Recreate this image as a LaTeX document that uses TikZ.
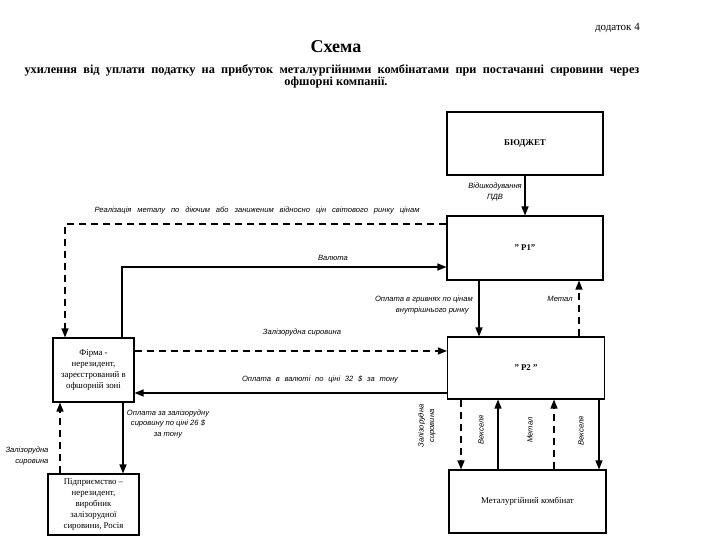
\documentclass[tikz,border=0pt]{standalone}
\usepackage{fontspec}
\setmainfont{Liberation Serif}
\newfontfamily\lblfont{Liberation Sans}
\usetikzlibrary{arrows.meta}
\begin{document}
\begin{tikzpicture}[x=1pt,y=-1pt,
  box/.style={draw,line width=1.1pt,inner sep=0pt,font=\fontsize{8.8}{11}\selectfont,align=center},
  conn/.style={line width=1.3pt,-{Triangle[length=9pt,width=7pt]}},
  dconn/.style={conn,dash pattern=on 7pt off 5pt},
  lbl/.style={font=\lblfont\itshape\fontsize{7.6}{10.5}\selectfont,inner sep=0pt,align=center}]
\useasboundingbox (0,0) rectangle (720,540);
% titles
\node[anchor=east,font=\fontsize{11}{13}\selectfont,inner sep=0pt] (dod) at (640,28) {додаток 4};
\node[font=\bfseries\fontsize{18}{20}\selectfont,inner sep=0pt] (title) at (336,47) {Схема};
\node[font=\bfseries\fontsize{12.3}{14}\selectfont,inner sep=0pt] (sub1) at (332,70)
  {\makebox[615pt][s]{ухилення від уплати податку на прибуток металургійними комбінатами при постачанні сировини через}};
\node[font=\bfseries\fontsize{12.3}{14}\selectfont,inner sep=0pt] (sub2) at (336,83) {офшорні компанії.};
% boxes
\node[box,minimum width=156pt,minimum height=63pt,font=\bfseries\fontsize{8.8}{11}\selectfont] (bud) at (525,143.5) {БЮДЖЕТ};
\node[box,minimum width=156pt,minimum height=64pt,font=\bfseries\fontsize{8.8}{11}\selectfont] (p1) at (525,248) {" Р1"};
\node[box,minimum width=157pt,minimum height=62pt,font=\bfseries\fontsize{8.8}{11}\selectfont] (p2) at (526,368) {" Р2 "};
\node[box,minimum width=81pt,minimum height=64pt] (firm) at (93.5,370) {Фірма -\\нерезидент,\\зареєстрований в\\офшорній зоні};
\node[box,minimum width=91pt,minimum height=61pt] (pid) at (93.5,504.5) {Підприємство –\\нерезидент,\\виробник\\залізорудної\\сировини, Росія};
\node[box,minimum width=157pt,minimum height=63pt] (mk) at (527.5,501.5) {Металургійний комбінат};
% coordinates
\coordinate (c1) at (65,224);
\coordinate (c2) at (122,267);
% connectors
\draw[conn] (bud.south) -- (p1.north);
\node[lbl,anchor=east] (l0) at (522,192) {Відшкодування\\ПДВ};
\draw[dconn] (p1.west |- 0,224) -- (c1) -- (c1 |- firm.north);
\node[lbl] (l1) at (257,211) {\makebox[325pt][s]{Реалізація металу по діючим або заниженим відносно цін світового ринку цінам}};
\draw[conn] (c2 |- firm.north) -- (c2) -- (p1.west |- c2);
\node[lbl] (l2) at (333,258) {Валюта};
\draw[conn] (479,0 |- p1.south) -- (479,0 |- p2.north);
\node[lbl,anchor=east,align=right] (l3) at (473,305) {Оплата в гривнях по цінам\\внутрішнього ринку\hspace*{4pt}};
\draw[dconn] (579,0 |- p2.north) -- (579,0 |- p1.south);
\node[lbl] (l4) at (560,299) {Метал};
\draw[dconn] (firm.east |- 0,351) -- (p2.west |- 0,351);
\node[lbl] (l5) at (302,333) {Залізорудна сировина};
\draw[conn] (p2.west |- 0,393) -- (firm.east |- 0,393);
\node[lbl] (l6) at (320,379) {\makebox[156pt][s]{Оплата в валюті по ціні 32 \$ за тону}};
\draw[conn] (123,0 |- firm.south) -- (123,0 |- pid.north);
\node[lbl] (l7) at (168,424) {Оплата за залізорудну\\сировину по ціні 26 \$\\за тону};
\draw[dconn] (60,0 |- pid.north) -- (60,0 |- firm.south);
\node[lbl,align=right] (l8) at (27,456) {Залізорудна\\сировина};
% verticals between P2 and combinat
\draw[dconn] (461,0 |- p2.south) -- (461,0 |- mk.north);
\node[lbl,rotate=90] (l9) at (427,426) {Залізорудна\\сировина};
\draw[conn] (498,0 |- mk.north) -- (498,0 |- p2.south);
\node[lbl,rotate=90] (l10) at (481,430) {Векселя};
\draw[dconn] (554,0 |- mk.north) -- (554,0 |- p2.south);
\node[lbl,rotate=90] (l11) at (530,430) {Метал};
\draw[conn] (599,0 |- p2.south) -- (599,0 |- mk.north);
\node[lbl,rotate=90] (l12) at (581,431) {Векселя};
\end{tikzpicture}
\end{document}
